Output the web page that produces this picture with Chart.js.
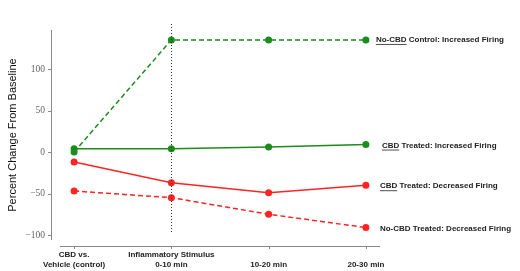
<!DOCTYPE html>
<html>
<head>
<meta charset="utf-8">
<script src="https://cdn.jsdelivr.net/npm/chart.js@4/dist/chart.umd.min.js"></script>
<style>
  html, body { margin: 0; padding: 0; background: #fff; }
  #wrap { width: 520px; height: 271px; }
</style>
</head>
<body>
<div id="wrap"><canvas id="firingChart"></canvas></div>
<script>
// time points
const timeLabels = [
  ["CBD vs.", "Vehicle (control)"],
  ["Inflammatory Stimulus", "0-10 min"],
  ["", "10-20 min"],
  ["", "20-30 min"],
];

// percent change from baseline
const noCbdIncreased = [0, 135, 135, 135];
const cbdIncreased = [4, 4, 6, 9];
const cbdDecreased = [-12, -37, -49, -40];
const noCbdDecreased = [-47, -55, -75, -91];

const seriesNames = [
  { prefix: "No-CBD", rest: " Control: Increased Firing" },
  { prefix: "CBD", rest: " Treated: Increased Firing" },
  { prefix: "CBD", rest: " Treated: Decreased Firing" },
  { prefix: "", rest: "No-CBD Treated: Decreased Firing" },
];

const yTicks = [-100, -50, 0, 50, 100];

const GREEN = "#1c8c1c";
const RED = "#ff2424";

function toPoints(arr) {
  return arr.map((v, i) => ({ x: i, y: v }));
}

function makeSet(label, values, color, dashed) {
  return {
    label: label,
    data: toPoints(values),
    borderColor: color,
    backgroundColor: color,
    borderWidth: 1.5,
    borderDash: dashed ? [5, 3] : [],
    pointRadius: 3.5,
    pointBorderWidth: 0,
    tension: 0,
  };
}

// spines, dotted stimulus marker and end-of-line labels
const decorPlugin = {
  id: "decor",
  afterDraw(chart) {
    const ctx = chart.ctx;
    const area = chart.chartArea;
    const xs = chart.scales.x;
    const ys = chart.scales.y;
    ctx.save();

    // y spine
    ctx.strokeStyle = "#8a8a8a";
    ctx.lineWidth = 1;
    const sx = area.left - 9;
    ctx.beginPath();
    ctx.moveTo(sx + 0.5, area.top);
    ctx.lineTo(sx + 0.5, area.bottom);
    yTicks.forEach((t) => {
      const py = Math.round(ys.getPixelForValue(t)) + 0.5;
      ctx.moveTo(sx - 3, py);
      ctx.lineTo(sx, py);
    });
    ctx.stroke();

    // x spine
    const sy = area.bottom + 6;
    ctx.beginPath();
    ctx.moveTo(area.left, sy + 0.5);
    ctx.lineTo(area.right, sy + 0.5);
    timeLabels.forEach((_, i) => {
      const px = Math.round(xs.getPixelForValue(i)) + 0.5;
      ctx.moveTo(px, sy);
      ctx.lineTo(px, sy + 3);
    });
    ctx.stroke();

    // stimulus line
    const vx = Math.round(xs.getPixelForValue(1)) + 0.5;
    ctx.strokeStyle = "#333";
    ctx.setLineDash([1, 2]);
    ctx.beginPath();
    ctx.moveTo(vx, area.top - 6);
    ctx.lineTo(vx, area.bottom - 7);
    ctx.stroke();
    ctx.setLineDash([]);

    // labels next to last points
    ctx.font = "bold 8px 'Liberation Sans', Arial, sans-serif";
    ctx.fillStyle = "#222";
    ctx.strokeStyle = "#222";
    ctx.textBaseline = "middle";
    const offsets = [[10, 0], [16, 1], [14, 1], [14, 1]];
    chart.data.datasets.forEach((ds, i) => {
      const last = ds.data[ds.data.length - 1];
      const px = xs.getPixelForValue(last.x) + offsets[i][0];
      const py = ys.getPixelForValue(last.y) + offsets[i][1];
      const n = seriesNames[i];
      let x = px;
      if (n.prefix) {
        ctx.fillText(n.prefix, x, py);
        const w = ctx.measureText(n.prefix).width;
        ctx.beginPath();
        ctx.moveTo(x, py + 4.5);
        ctx.lineTo(x + w, py + 4.5);
        ctx.lineWidth = 0.8;
        ctx.stroke();
        x += w;
      }
      ctx.fillText(n.rest, x, py);
    });
    ctx.restore();
  },
};

const ctx = document.getElementById("firingChart").getContext("2d");
new Chart(ctx, {
  type: "line",
  data: {
    datasets: [
      makeSet("No-CBD Control: Increased Firing", noCbdIncreased, GREEN, true),
      makeSet("CBD Treated: Increased Firing", cbdIncreased, GREEN, false),
      makeSet("CBD Treated: Decreased Firing", cbdDecreased, RED, false),
      makeSet("No-CBD Treated: Decreased Firing", noCbdDecreased, RED, true),
    ],
  },
  options: {
    responsive: true,
    maintainAspectRatio: false,
    animation: false,
    layout: { padding: { top: 30, right: 140, left: 0, bottom: 0 } },
    plugins: {
      legend: { display: false },
      tooltip: { enabled: false },
    },
    scales: {
      x: {
        type: "linear",
        min: -0.145,
        max: 3.145,
        grid: { display: false, drawTicks: false },
        border: { display: false },
        afterBuildTicks(scale) {
          scale.ticks = timeLabels.map((_, i) => ({ value: i }));
        },
        afterFit(scale) {
          scale.height = 31;
        },
        ticks: {
          padding: 9,
          maxRotation: 0,
          autoSkip: false,
          color: "#222",
          font: { family: "'Liberation Sans', Arial, sans-serif", size: 8, weight: "bold", lineHeight: 1.35 },
          callback: (v) => timeLabels[v],
        },
      },
      y: {
        min: -106,
        max: 147,
        grid: { display: false, drawTicks: false },
        border: { display: false },
        afterBuildTicks(scale) {
          scale.ticks = yTicks.map((v) => ({ value: v }));
        },
        afterFit(scale) {
          scale.width = 60;
        },
        title: {
          display: true,
          text: "Percent Change From Baseline",
          color: "#111",
          font: { family: "'Liberation Sans', Arial, sans-serif", size: 11 },
          padding: { top: 6, bottom: 0 },
        },
        ticks: {
          padding: 15,
          color: "#666",
          font: { family: "'Liberation Serif', 'Times New Roman', serif", size: 9.5 },
          callback: (v) => (v < 0 ? "\u2212" + Math.abs(v) : String(v)),
        },
      },
    },
  },
  plugins: [decorPlugin],
});
</script>
</body>
</html>
